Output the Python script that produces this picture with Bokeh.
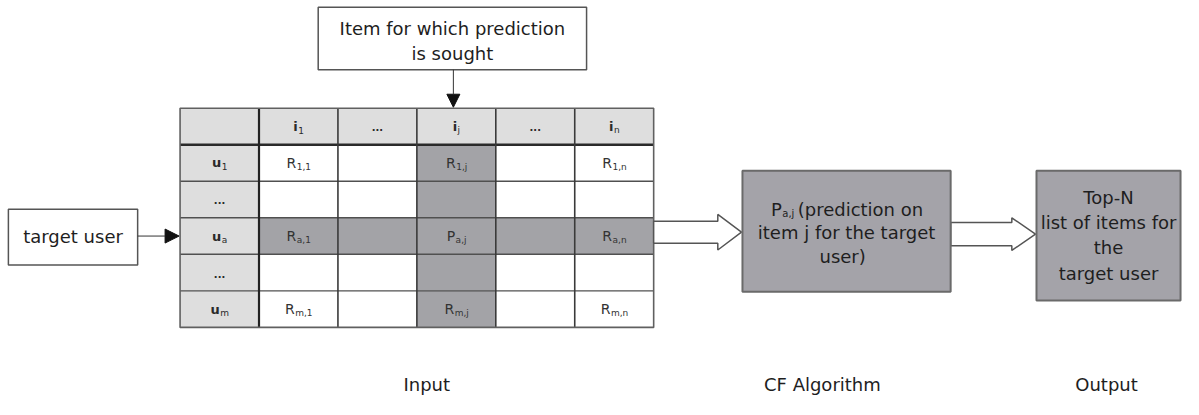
from bokeh.plotting import figure
from bokeh.models import Range1d, Arrow, NormalHead
from bokeh.core.properties import value
from bokeh.embed import file_html
from bokeh.resources import INLINE

# ---------------- content (labels of the diagram) ----------------
col_head_main = ["i", "...", "i", "...", "i"]
col_head_sub = ["1", "", "j", "", "n"]
row_head_main = ["u", "...", "u", "...", "u"]
row_head_sub = ["1", "", "a", "", "m"]
cell_rows = [0, 0, 0, 2, 2, 2, 4, 4, 4]
cell_cols = [0, 2, 4, 0, 2, 4, 0, 2, 4]
cell_main = ["R", "R", "R", "R", "P", "R", "R", "R", "R"]
cell_sub = ["1,1", "1,j", "1,n", "a,1", "a,j", "a,n", "m,1", "m,j", "m,n"]
target_row = 2
target_col = 2
query_lines = ["Item for which prediction", "is sought"]
user_label = "target user"
cf_main, cf_sub = "P", "a,j"
cf_lines = ["(prediction on", "item j for the target", "user)"]
out_lines = ["Top-N", "list of items for", "the", "target user"]
stage_labels = ["Input", "CF Algorithm", "Output"]

# ---------------- layout / style ----------------
FONT = value("DejaVu Sans")
W, H = 1183, 399
REF_W, REF_H = 1199, 415
TX0, CW = 182, 80
TY0, RH = 112, 38
NCOL = len(col_head_main) + 1
NROW = len(row_head_main) + 1
LIGHT = "#dedede"
DARK = "#a3a3a7"
BOXFILL = "#a4a3a9"
INK = "#1e1e1e"
BIG = 18

ADV = {'R': .695, 'P': .603, 'u': .634, 'i': .278, '.': .318, ',': .318,
       '1': .636, 'a': .613, 'j': .278, 'm': .974, 'n': .634, ' ': .318}


def tw(s, fs):
    return sum(ADV.get(ch, .6) for ch in s) * fs


p = figure(width=W, height=H, x_range=Range1d(0, REF_W), y_range=Range1d(REF_H, 0),
           output_backend="svg", toolbar_location=None, min_border=0,
           x_axis_location=None, y_axis_location=None)
p.xgrid.grid_line_color = None
p.ygrid.grid_line_color = None
p.outline_line_color = None
p.background_fill_color = "white"
p.border_fill_color = "white"

col_edges = [TX0 + k * CW for k in range(NCOL + 1)]
row_edges = [TY0 + k * RH for k in range(NROW + 1)]

# ---- table cells ----
L, R_, T, B, F = [], [], [], [], []
for r in range(NROW):
    for c in range(NCOL):
        L.append(col_edges[c]); R_.append(col_edges[c + 1])
        T.append(row_edges[r]); B.append(row_edges[r + 1])
        if r == 0 or c == 0:
            F.append(LIGHT)
        elif r - 1 == target_row or c - 1 == target_col:
            F.append(DARK)
        else:
            F.append("white")
p.quad(left=L, right=R_, top=T, bottom=B, fill_color=F, line_color=None)

# grid lines
hx, hy = [], []
for k in range(1, NROW):
    hx.append([col_edges[0], col_edges[-1]]); hy.append([row_edges[k], row_edges[k]])
p.multi_line(hx, hy, line_color="#505050", line_width=1.4)
p.line([col_edges[0], col_edges[-1]], [row_edges[1], row_edges[1]], line_color="#2a2a2a", line_width=2.6)
vx, vy = [], []
for k in range(1, NCOL):
    vx.append([col_edges[k], col_edges[k]]); vy.append([row_edges[0], row_edges[-1]])
p.multi_line(vx, vy, line_color="#3a3a3a", line_width=1.6)
p.line([col_edges[1], col_edges[1]], [row_edges[0], row_edges[-1]], line_color="#222", line_width=2.2)
p.quad(left=[col_edges[0]], right=[col_edges[-1]], top=[row_edges[0]], bottom=[row_edges[-1]],
       fill_color=None, line_color="#606060", line_width=1.6)

# ---- table texts ----
mx, my, mt = [], [], []   # main texts
sx, sy, st = [], [], []   # subscripts


def place(cx, cy, main, sub, fm, fsub, bold=False):
    if not sub:
        mx.append(cx); my.append(cy); mt.append(main)
        return
    wm = tw(main, fm) * (1.12 if bold else 1.0)
    ws = tw(sub, fsub)
    split = cx + (wm - ws) / 2
    mx.append(split); my.append(cy); mt.append(main)
    sx.append(split + 0.5); sy.append(cy + 4); st.append(sub)


for k in range(len(col_head_main)):
    cx = (col_edges[k + 1] + col_edges[k + 2]) / 2
    cy = (row_edges[0] + row_edges[1]) / 2
    place(cx, cy, col_head_main[k], col_head_sub[k], 13, 9, bold=True)
for k in range(len(row_head_main)):
    cx = (col_edges[0] + col_edges[1]) / 2
    cy = (row_edges[k + 1] + row_edges[k + 2]) / 2
    place(cx, cy, row_head_main[k], row_head_sub[k], 13, 9, bold=True)

cell_mx, cell_my, cell_mt, cell_sx, cell_sy, cell_st = [], [], [], [], [], []
for r, c, m, s in zip(cell_rows, cell_cols, cell_main, cell_sub):
    cx = (col_edges[c + 1] + col_edges[c + 2]) / 2
    cy = (row_edges[r + 1] + row_edges[r + 2]) / 2
    wm, ws = tw(m, 14), tw(s, 9)
    split = cx + (wm - ws) / 2
    cell_mx.append(split); cell_my.append(cy); cell_mt.append(m)
    cell_sx.append(split + 0.5); cell_sy.append(cy + 4); cell_st.append(s)

p.text(x=cell_mx, y=cell_my, text=cell_mt, text_font=FONT, text_font_size=value("14px"),
       text_color="#333", text_align="right", text_baseline="middle")
p.text(x=cell_sx, y=cell_sy, text=cell_st, text_font=FONT, text_font_size=value("9px"),
       text_color="#333", text_align="left", text_baseline="middle")

ra_x, ra_y, ra_t, ce_x, ce_y, ce_t = [], [], [], [], [], []
for x, y, t in zip(mx, my, mt):
    if t == "...":
        ce_x.append(x); ce_y.append(y + 1); ce_t.append(t)
    else:
        ra_x.append(x); ra_y.append(y); ra_t.append(t)
p.text(x=ra_x, y=ra_y, text=ra_t, text_font=FONT, text_font_size=value("13px"), text_font_style="bold",
       text_color="#2a2a2a", text_align="right", text_baseline="middle")
p.text(x=ce_x, y=ce_y, text=ce_t, text_font=FONT, text_font_size=value("10px"), text_font_style="bold",
       text_color="#2a2a2a", text_align="center", text_baseline="middle")
p.text(x=sx, y=sy, text=st, text_font=FONT, text_font_size=value("9px"),
       text_color="#2a2a2a", text_align="left", text_baseline="middle")

# ---- query box (top) ----
QL, QR, QT, QB = 322, 594, 7, 72
p.quad(left=[QL], right=[QR], top=[QT], bottom=[QB], fill_color="white", line_color="#555", line_width=1.5)
qcx = (QL + QR) / 2
p.text(x=[qcx] * len(query_lines), y=[29, 55], text=query_lines, text_font=FONT,
       text_font_size=value(f"{BIG}px"), text_color=INK, text_align="center", text_baseline="middle")
qx = (col_edges[target_col + 1] + col_edges[target_col + 2]) / 2 - 3
p.add_layout(Arrow(end=NormalHead(size=13, fill_color="#111", line_color="#111", line_width=1),
                   x_start=qx, y_start=QB, x_end=qx, y_end=row_edges[0] - 1,
                   line_color="#333", line_width=1))

# ---- target user box ----
UL, UR, UT, UB = 8, 139, 217, 275
ucy = (row_edges[target_row + 1] + row_edges[target_row + 2]) / 2
p.quad(left=[UL], right=[UR], top=[UT], bottom=[UB], fill_color="white", line_color="#555", line_width=1.5)
p.text(x=[(UL + UR) / 2], y=[ucy], text=[user_label], text_font=FONT, text_font_size=value(f"{BIG}px"),
       text_color=INK, text_align="center", text_baseline="middle")
p.add_layout(Arrow(end=NormalHead(size=14, fill_color="#111", line_color="#111", line_width=1),
                   x_start=UR, y_start=ucy, x_end=col_edges[0] - 1, y_end=ucy,
                   line_color="#333", line_width=1))


# ---- hollow block arrows ----
def block_arrow(x0, xb, xt, cy, hs, hh):
    xs = [x0, xb, xb, xt, xb, xb, x0]
    ys = [cy - hs, cy - hs, cy - hh, cy, cy + hh, cy + hs, cy + hs]
    p.patch(xs, ys, fill_color="white", line_color="#555", line_width=1.5)


CL, CR, CT, CB = 752, 963, 177, 303
OL, OR, OT, OB = 1050, 1196, 177, 312
block_arrow(col_edges[-1], 727, CL - 1, 241, 11.5, 18.5)
block_arrow(CR, 1025, OL - 1, 243, 12, 17)

# ---- CF box ----
p.quad(left=[CL], right=[CR], top=[CT], bottom=[CB], fill_color=BOXFILL, line_color="#6a6a6a", line_width=2)
ccx = (CL + CR) / 2
w_main, w_sub, w_rest = tw(cf_main, BIG), tw(cf_sub, 10), 126
start = ccx - (w_main + w_sub + 4 + w_rest) / 2
p.text(x=[start], y=[217], text=[cf_main], text_font=FONT, text_font_size=value(f"{BIG}px"),
       text_color=INK, text_align="left", text_baseline="middle")
p.text(x=[start + w_main + 0.5], y=[222], text=[cf_sub], text_font=FONT, text_font_size=value("10px"),
       text_color=INK, text_align="left", text_baseline="middle")
p.text(x=[start + w_main + w_sub + 4], y=[217], text=[cf_lines[0]], text_font=FONT,
       text_font_size=value(f"{BIG}px"), text_color=INK, text_align="left", text_baseline="middle")
p.text(x=[ccx, ccx - 4], y=[241, 266], text=cf_lines[1:], text_font=FONT, text_font_size=value(f"{BIG}px"),
       text_color=INK, text_align="center", text_baseline="middle")

# ---- Output box ----
p.quad(left=[OL], right=[OR], top=[OT], bottom=[OB], fill_color=BOXFILL, line_color="#6a6a6a", line_width=2)
ocx = (OL + OR) / 2
p.text(x=[ocx] * len(out_lines), y=[205, 231, 257, 284], text=out_lines, text_font=FONT,
       text_font_size=value(f"{BIG}px"), text_color=INK, text_align="center", text_baseline="middle")

# ---- stage labels ----
p.text(x=[432, 833, 1121], y=[399, 399, 399], text=stage_labels, text_font=FONT,
       text_font_size=value(f"{BIG}px"), text_color=INK, text_align="center", text_baseline="middle")

open("out.html", "w").write(file_html(p, INLINE))
